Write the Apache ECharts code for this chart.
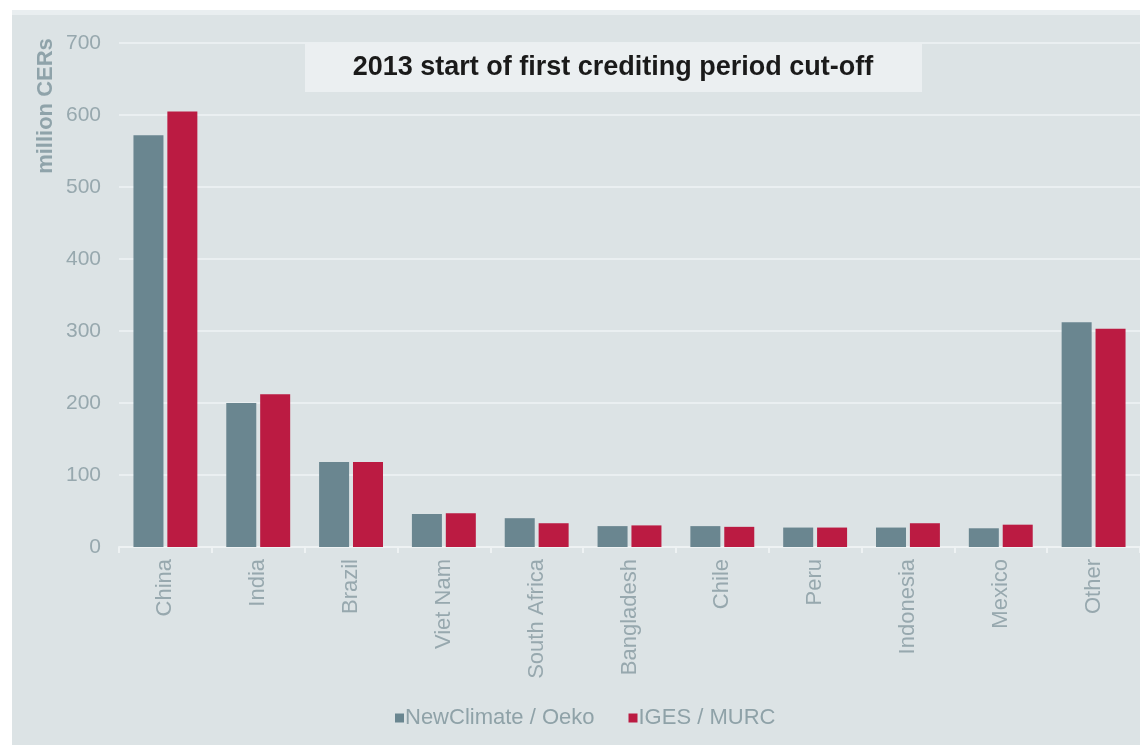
<!DOCTYPE html>
<html>
<head>
<meta charset="utf-8">
<script src="https://cdn.jsdelivr.net/npm/echarts@6/dist/echarts.min.js"></script>
<style>
html,body{margin:0;padding:0;background:#ffffff;width:1140px;height:745px;overflow:hidden;}
#bg{position:absolute;left:12px;top:10px;width:1128px;height:735px;background:#dce3e5;border-top:5px solid #e9eef0;}
#chart{position:absolute;left:0;top:0;width:1140px;height:745px;}
</style>
</head>
<body>
<div id="bg"></div>
<div id="chart"></div>
<script>
var categories = ['China','India','Brazil','Viet Nam','South Africa','Bangladesh','Chile','Peru','Indonesia','Mexico','Other'];
var newClimateOeko = [572, 200, 118, 46, 40, 29, 29, 27, 27, 26, 312];
var igesMurc = [605, 212, 118, 47, 33, 30, 28, 27, 33, 31, 303];
var seriesNames = ['NewClimate / Oeko', 'IGES / MURC'];
var titleText = '2013 start of first crediting period cut-off';
var yAxisName = 'million CERs';

var chart = echarts.init(document.getElementById('chart'), null, {renderer:'canvas'});
var labelColor = '#97a8ae';
chart.setOption({
  backgroundColor: 'transparent',
  animation: false,
  textStyle: {fontFamily: 'Liberation Sans, Arial, sans-serif'},
  grid: {left: 119, top: 43, width: 1023, height: 504},
  legend: {
    data: seriesNames,
    top: 702,
    left: 390,
    itemWidth: 9,
    itemHeight: 9,
    itemGap: 34,
    icon: 'rect',
    textStyle: {color: '#8fa2a8', fontSize: 22, padding: [0,0,0,-4]}
  },
  xAxis: {
    type: 'category',
    data: categories,
    axisLine: {lineStyle: {color: '#eef2f3', width: 2}},
    axisTick: {show: true, length: 6, lineStyle: {color: '#eef2f3', width: 2}},
    axisLabel: {rotate: 90, color: labelColor, fontSize: 22, margin: 12}
  },
  yAxis: {
    type: 'value',
    min: 0,
    max: 700,
    interval: 100,
    axisLine: {show: false},
    axisTick: {show: false},
    axisLabel: {color: labelColor, fontSize: 21, margin: 18},
    splitLine: {lineStyle: {color: '#eaeff1', width: 2}}
  },
  series: [
    {name: seriesNames[0], type: 'bar', data: newClimateOeko, barWidth: 30, barGap: '13%', itemStyle: {color: '#6a8690'}},
    {name: seriesNames[1], type: 'bar', data: igesMurc, barWidth: 30, barGap: '13%', itemStyle: {color: '#bb1b42'}}
  ],
  graphic: [
    {type: 'rect', shape: {x: 305, y: 43, width: 617, height: 49}, style: {fill: '#ebeff1'}, z: 10},
    {type: 'text', x: 613, y: 68, z: 11, style: {text: titleText, fill: '#1a1a1a', font: 'bold 27px "Liberation Sans", Arial, sans-serif', textAlign: 'center', textVerticalAlign: 'middle'}},
    {type: 'text', x: 46, y: 106, rotation: Math.PI/2, z: 11, style: {text: yAxisName, fill: '#8fa3aa', font: 'bold 22px "Liberation Sans", Arial, sans-serif', textAlign: 'center', textVerticalAlign: 'middle'}}
  ]
});
</script>
</body>
</html>
